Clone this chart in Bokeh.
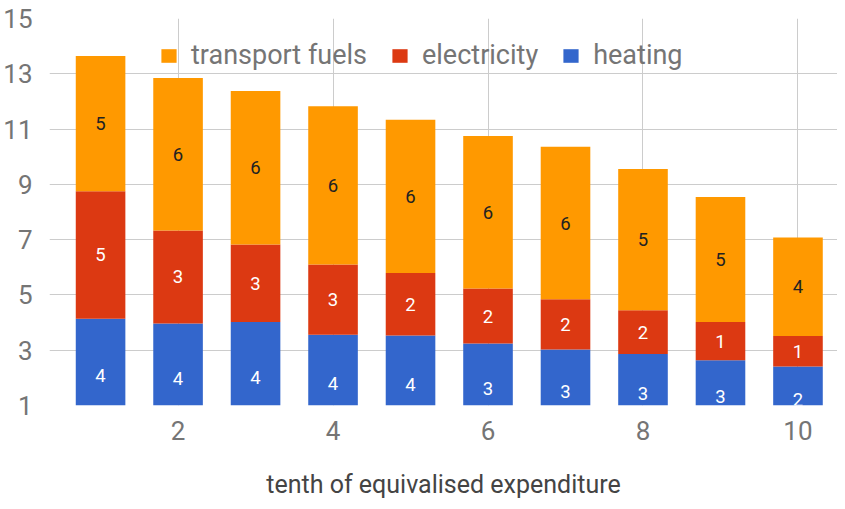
from bokeh.plotting import figure
from bokeh.models import ColumnDataSource, FixedTicker, Legend, LegendItem, Range1d
from bokeh.core.properties import value
from bokeh.embed import file_html
from bokeh.resources import INLINE

deciles = [1, 2, 3, 4, 5, 6, 7, 8, 9, 10]
heating = [4.14, 3.97, 4.02, 3.56, 3.53, 3.24, 3.03, 2.86, 2.64, 2.41]
electricity = [4.61, 3.36, 2.80, 2.54, 2.26, 1.99, 1.81, 1.59, 1.38, 1.10]
transport = [4.89, 5.52, 5.56, 5.73, 5.55, 5.52, 5.52, 5.11, 4.52, 3.57]
series = ["heating", "electricity", "transport fuels"]
colors = ["#3366cc", "#dc3912", "#ff9900"]
y_ticks = [1, 3, 5, 7, 9, 11, 13, 15]
x_ticks = [2, 4, 6, 8, 10]
x_title = "tenth of equivalised expenditure"

FONT = "Roboto"

src = ColumnDataSource(dict(x=deciles, heating=heating, electricity=electricity,
                            transport=transport))

p = figure(width=837, height=501, output_backend="svg", toolbar_location=None,
           x_range=Range1d(0.341, 10.51), y_range=Range1d(1, 15),
           min_border_left=48, min_border_right=0, min_border_top=18,
           min_border_bottom=96)
p.outline_line_color = None

rs = p.vbar_stack(["heating", "electricity", "transport"], x="x", width=0.64,
                  color=colors, line_color=None, source=src)

# segment labels
lab_x, lab_y, lab_t, lab_c = [], [], [], []
for i, x in enumerate(deciles):
    base = 0.0
    for vals, col in ((heating, "#ffffff"), (electricity, "#ffffff"), (transport, "#222222")):
        v = vals[i]
        lab_x.append(x)
        lab_y.append(base + v / 2)
        lab_t.append("%d" % int(v + 0.5))
        lab_c.append(col)
        base += v
lsrc = ColumnDataSource(dict(x=lab_x, y=lab_y, t=lab_t, c=lab_c))
p.text(x="x", y="y", text="t", source=lsrc, text_color="c",
       text_font=value(FONT), text_font_size="18.5px",
       text_align="center", text_baseline="middle")

# axes
for ax in (p.xaxis[0], p.yaxis[0]):
    ax.axis_line_color = None
    ax.major_tick_line_color = None
    ax.minor_tick_line_color = None
    ax.major_label_text_font = FONT
    ax.major_label_text_font_size = "26px"
    ax.major_label_text_color = "#757575"
p.xaxis.ticker = FixedTicker(ticks=x_ticks)
p.yaxis.ticker = FixedTicker(ticks=y_ticks)
p.xaxis.major_label_standoff = 9
p.yaxis.major_label_standoff = 11
p.xaxis.axis_label = x_title
p.xaxis.axis_label_text_font = FONT
p.xaxis.axis_label_text_font_size = "25px"
p.xaxis.axis_label_text_font_style = "normal"
p.xaxis.axis_label_text_color = "#444444"
p.xaxis.axis_label_standoff = 27

p.xgrid.ticker = FixedTicker(ticks=x_ticks)
p.ygrid.ticker = FixedTicker(ticks=y_ticks)
p.grid.grid_line_color = "#cccccc"
p.grid.grid_line_width = 1

legend = Legend(items=[LegendItem(label=series[2], renderers=[rs[2]]),
                       LegendItem(label=series[1], renderers=[rs[1]]),
                       LegendItem(label=series[0], renderers=[rs[0]])],
                orientation="horizontal", location=(110, 334),
                background_fill_alpha=0, border_line_alpha=0,
                padding=0, margin=0, spacing=23, label_standoff=13,
                glyph_width=19, glyph_height=17,
                label_text_font=FONT, label_text_font_size="27px",
                label_text_color="#757575")
p.add_layout(legend, "center")

open("out.html", "w").write(file_html(p, INLINE))
